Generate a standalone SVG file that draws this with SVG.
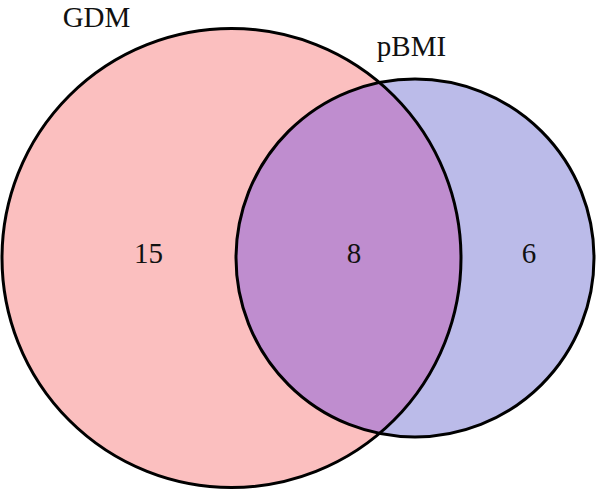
<svg xmlns="http://www.w3.org/2000/svg" width="596" height="490" viewBox="0 0 596 490">
<style>
.lbl{font-family:"Liberation Serif","Times New Roman",serif;font-size:29px;fill:#111;text-anchor:middle}
.edge{fill:none;stroke:#000;stroke-width:3}
</style>
<defs>
<clipPath id="clipBig"><circle cx="231.5" cy="258" r="229.5"/></clipPath>
</defs>
<rect width="596" height="490" fill="#fff"/>
<g id="gdm">
<circle cx="231.5" cy="258" r="229.5" fill="#FBBFBF"/>
</g>
<g id="pbmi">
<circle cx="415" cy="258" r="179" fill="#BBBBE9"/>
</g>
<g id="overlap">
<circle cx="415" cy="258" r="179" fill="#BF8DCF" clip-path="url(#clipBig)"/>
</g>
<g id="connectors">
<circle class="edge" cx="231.5" cy="258" r="229.5"/>
<circle class="edge" cx="415" cy="258" r="179"/>
</g>
<g id="labels">
<text class="lbl" x="96.5" y="27">GDM</text>
<text class="lbl" x="411.5" y="56">pBMI</text>
<text class="lbl" x="148.5" y="263">15</text>
<text class="lbl" x="354" y="263">8</text>
<text class="lbl" x="529" y="263">6</text>
</g>
</svg>
